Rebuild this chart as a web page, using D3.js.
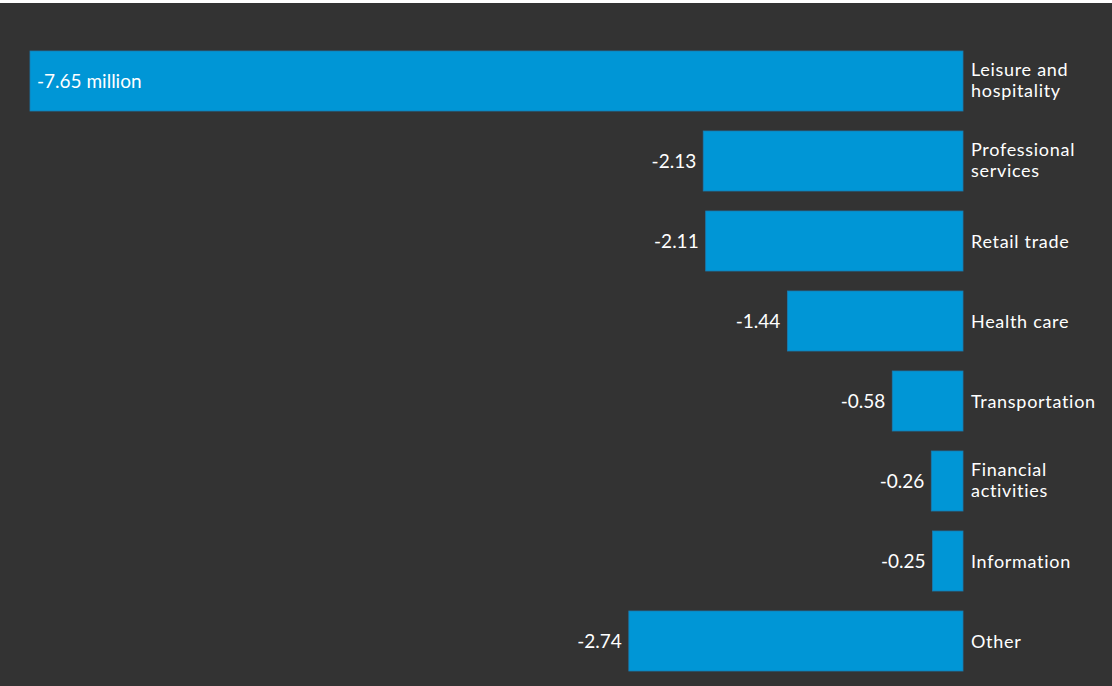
<!DOCTYPE html>
<html><head><meta charset="utf-8">
<script src="https://cdn.jsdelivr.net/npm/d3@7"></script>
<style>
html,body{margin:0;padding:0;background:#fff;}
svg{display:block;}
text{font-family:Lato, "Open Sans", sans-serif;}
</style></head>
<body>
<script>
const categories = ["Leisure and|hospitality","Professional|services","Retail trade","Health care","Transportation","Financial|activities","Information","Other"];
const values = [-7.65,-2.13,-2.11,-1.44,-0.58,-0.26,-0.25,-2.74];
const valueLabels = ["-7.65 million","-2.13","-2.11","-1.44","-0.58","-0.26","-0.25","-2.74"];

const W=1112,H=686;
const svg=d3.select("body").append("svg").attr("width",W).attr("height",H);
svg.append("rect").attr("x",0).attr("y",3).attr("width",W).attr("height",H-3).attr("fill","#333333");

const x=d3.scaleLinear().domain([-7.65,0]).range([30,963]);
const y=d3.scaleBand().domain(categories).range([41,681]).paddingInner(0.25).paddingOuter(0.125);

const g=svg.append("g");
g.selectAll("rect.bar").data(values).join("rect").attr("class","bar")
 .attr("x",d=>x(d)).attr("y",(d,i)=>y(categories[i]))
 .attr("width",d=>x(0)-x(d)).attr("height",y.bandwidth())
 .attr("fill","#0096d6").attr("stroke","#1a7ab0").attr("stroke-width",0.8);

g.selectAll("text.val").data(values).join("text").attr("class","val")
 .attr("x",(d,i)=>i===0? x(d)+7 : x(d)-7)
 .attr("y",(d,i)=>y(categories[i])+y.bandwidth()/2)
 .attr("dy","0.35em")
 .attr("text-anchor",(d,i)=>i===0?"start":"end")
 .attr("fill","#fff").attr("font-size",19)
 .text((d,i)=>valueLabels[i]);

const lines=[];
categories.forEach(c=>{
  const parts=c.split("|");
  const cy=y(c)+y.bandwidth()/2;
  parts.forEach((p,k)=>{
    const base = parts.length===1 ? cy+6.5 : cy-5 + k*21;
    lines.push({t:p, y:base});
  });
});
g.selectAll("text.cat").data(lines).join("text").attr("class","cat")
 .attr("x",x(0)+8).attr("y",d=>d.y)
 .attr("fill","#fff").attr("font-size",18).attr("letter-spacing",0.7)
 .text(d=>d.t);
</script>
</body></html>
